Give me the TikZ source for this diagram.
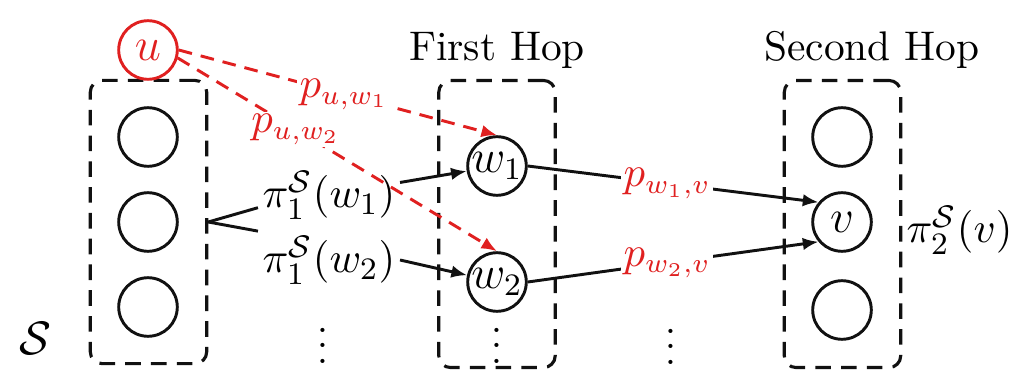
\documentclass[tikz,border=0pt]{standalone}
\usepackage{amsmath,amssymb}
\usepackage{xcolor}
\usepackage{tikz}
\usetikzlibrary{positioning,arrows.meta,calc}
\definecolor{hpRed}{HTML}{E02020}
\definecolor{hpDark}{HTML}{111111}
\tikzset{
  grp/.style={draw=hpDark, line width=0.8pt, dash pattern=on 4pt off 2.6pt, rounded corners=3pt, minimum width=29.8pt, minimum height=73.5pt, inner sep=0pt},
  cnode/.style={draw=hpDark, circle, line width=0.75pt, minimum size=15pt, inner sep=0pt, font=\large},
  unode/.style={cnode, draw=hpRed, text=hpRed},
  lnk/.style={line width=0.75pt, hpDark},
  arr/.style={-{Latex[length=4pt,width=3.2pt]}, line width=0.75pt, hpDark},
  arrr/.style={-{Latex[length=4pt,width=3.2pt]}, line width=0.75pt, hpRed, dash pattern=on 3.5pt off 2.3pt},
  plab/.style={fill=white, inner sep=0.6pt, text=hpRed, font=\fontsize{10.6}{12}\selectfont},
  mlab/.style={inner sep=1pt, font=\fontsize{11}{13}\selectfont},
  hoplab/.style={font=\fontsize{10.6}{13}\selectfont},
}
\begin{document}
\begin{tikzpicture}[x=0.256pt,y=-0.256pt]
  \useasboundingbox (0,0) rectangle (1010,389);
  % source node u and the set S
  \node[grp, minimum height=72.5pt] (grpS) at (148.5,222) {};
  \node[cnode] (s1) at (148,137) {};
  \node[cnode] (s2) at (148,222) {};
  \node[cnode] (s3) at (148,307) {};
  \node[unode] (u) at (148,50) {$u$};
  \node[mlab, font=\large] (setS) at (35,338) {$\mathcal{S}$};
  % first hop
  \node[grp] (hop1) at (497,224) {};
  \node[hoplab] (hop1lab) at (497,50) {First Hop};
  \node[cnode] (w1) at (497,166) {$w_1$};
  \node[cnode] (w2) at (497,282) {$w_2$};
  \node (dots1) at (497,334) {$\vdots$};
  % second hop
  \node[grp] (hop2) at (842.5,224) {};
  \node[hoplab] (hop2lab) at (872,50) {Second Hop};
  \node[cnode] (t1) at (842,137) {};
  \node[cnode] (v) at (842,222) {$v$};
  \node[cnode] (t3) at (842,310) {};
  \node[mlab, anchor=west] (pi2v) at (902,230) {$\pi_2^{\mathcal{S}}(v)$};
  % first-hop probabilities from S
  \node[mlab] (pi1) at (329,195) {$\pi_1^{\mathcal{S}}(w_1)$};
  \node[mlab] (pi2) at (329,260) {$\pi_1^{\mathcal{S}}(w_2)$};
  \node (dots0) at (323,334) {$\vdots$};
  \node (dots2) at (671,335) {$\vdots$};
  % links
  \draw[lnk] (grpS.east) -- (pi1.base west);
  \draw[lnk] (grpS.east) -- (pi2.north west);
  \draw[arr] (pi1.10) -- (w1);
  \draw[arr] (pi2.east) -- (w2);
  \draw[arr] (w1.east) -- node[plab, pos=0.48] {$p_{w_1,v}$} (v.140);
  \draw[arr] (w2.east) -- node[plab, pos=0.48] {$p_{w_2,v}$} (v.220);
  % transitions out of u
  \draw[arrr] (u.east) -- node[plab, pos=0.52] {$p_{u,w_1}$} (w1.north);
  \draw[arrr] (u.-15) -- node[plab, pos=0.37] {$p_{u,w_2}$} (w2.north);
\end{tikzpicture}
\end{document}
